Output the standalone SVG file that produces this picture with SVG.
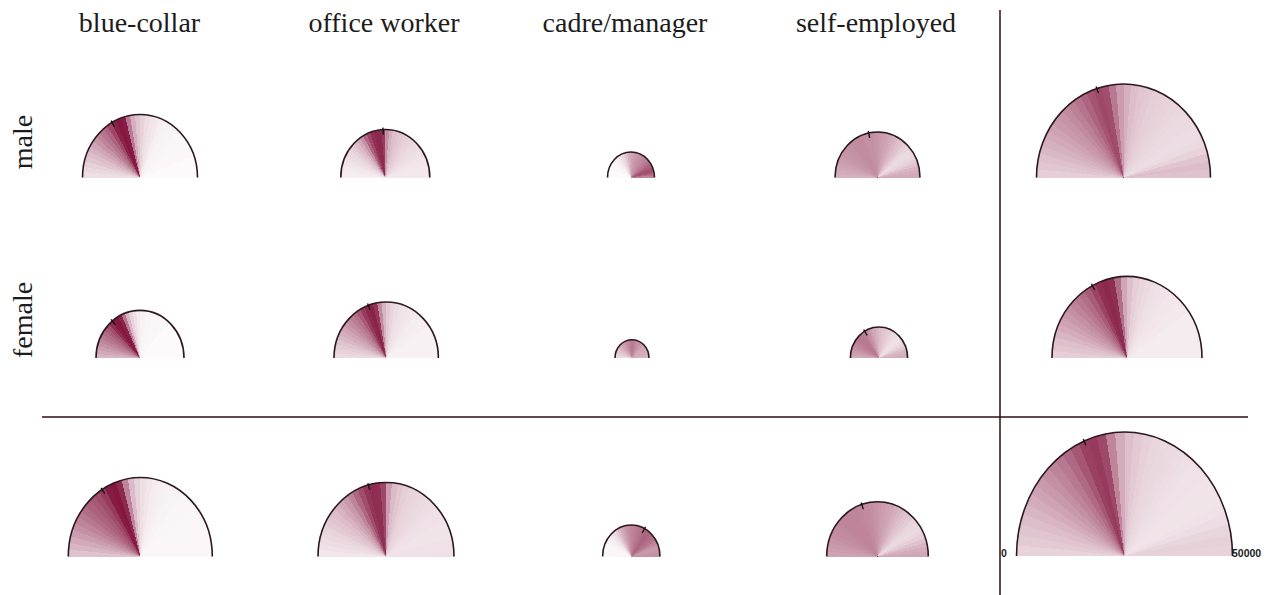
<svg xmlns="http://www.w3.org/2000/svg" xmlns:xlink="http://www.w3.org/1999/xlink" width="1274" height="595" viewBox="0 0 1274 595">
<style>
.fan{fill:#7d0a36;shape-rendering:crispEdges}
.arc{fill:none;stroke:#2b1820;stroke-width:1.6}
.tick{stroke:#1a1014;stroke-width:1.4;fill:none}
.hdr{font-family:"Liberation Serif","Times New Roman",serif;font-size:28px;fill:#1c1c1c;text-anchor:middle}
.ax{font-family:"Liberation Sans",Arial,sans-serif;font-size:10.5px;font-weight:bold;fill:#1c1c1c}
.rule{stroke:#2a0f12;stroke-width:1.5}
</style>
<defs>
<path id="w0" d="M0 0L-100 0L-99.62-8.72Z"/>
<path id="w1" d="M0 0L-99.62-8.72L-98.48-17.36Z"/>
<path id="w2" d="M0 0L-98.48-17.36L-96.59-25.88Z"/>
<path id="w3" d="M0 0L-96.59-25.88L-93.97-34.2Z"/>
<path id="w4" d="M0 0L-93.97-34.2L-90.63-42.26Z"/>
<path id="w5" d="M0 0L-90.63-42.26L-86.6-50Z"/>
<path id="w6" d="M0 0L-86.6-50L-81.92-57.36Z"/>
<path id="w7" d="M0 0L-81.92-57.36L-76.6-64.28Z"/>
<path id="w8" d="M0 0L-76.6-64.28L-70.71-70.71Z"/>
<path id="w9" d="M0 0L-70.71-70.71L-64.28-76.6Z"/>
<path id="w10" d="M0 0L-64.28-76.6L-57.36-81.92Z"/>
<path id="w11" d="M0 0L-57.36-81.92L-50-86.6Z"/>
<path id="w12" d="M0 0L-50-86.6L-42.26-90.63Z"/>
<path id="w13" d="M0 0L-42.26-90.63L-34.2-93.97Z"/>
<path id="w14" d="M0 0L-34.2-93.97L-25.88-96.59Z"/>
<path id="w15" d="M0 0L-25.88-96.59L-17.36-98.48Z"/>
<path id="w16" d="M0 0L-17.36-98.48L-8.72-99.62Z"/>
<path id="w17" d="M0 0L-8.72-99.62L0-100Z"/>
<path id="w18" d="M0 0L0-100L8.72-99.62Z"/>
<path id="w19" d="M0 0L8.72-99.62L17.36-98.48Z"/>
<path id="w20" d="M0 0L17.36-98.48L25.88-96.59Z"/>
<path id="w21" d="M0 0L25.88-96.59L34.2-93.97Z"/>
<path id="w22" d="M0 0L34.2-93.97L42.26-90.63Z"/>
<path id="w23" d="M0 0L42.26-90.63L50-86.6Z"/>
<path id="w24" d="M0 0L50-86.6L57.36-81.92Z"/>
<path id="w25" d="M0 0L57.36-81.92L64.28-76.6Z"/>
<path id="w26" d="M0 0L64.28-76.6L70.71-70.71Z"/>
<path id="w27" d="M0 0L70.71-70.71L76.6-64.28Z"/>
<path id="w28" d="M0 0L76.6-64.28L81.92-57.36Z"/>
<path id="w29" d="M0 0L81.92-57.36L86.6-50Z"/>
<path id="w30" d="M0 0L86.6-50L90.63-42.26Z"/>
<path id="w31" d="M0 0L90.63-42.26L93.97-34.2Z"/>
<path id="w32" d="M0 0L93.97-34.2L96.59-25.88Z"/>
<path id="w33" d="M0 0L96.59-25.88L98.48-17.36Z"/>
<path id="w34" d="M0 0L98.48-17.36L99.62-8.72Z"/>
<path id="w35" d="M0 0L99.62-8.72L100 0Z"/>
</defs>
<rect width="1274" height="595" fill="#ffffff"/>

<g id="headers">
<text class="hdr" x="139.5" y="32">blue-collar</text>
<text class="hdr" x="384" y="32">office worker</text>
<text class="hdr" x="625" y="32">cadre/manager</text>
<text class="hdr" x="876" y="32">self-employed</text>
<text class="hdr" transform="translate(32 142) rotate(-90)">male</text>
<text class="hdr" transform="translate(32 320) rotate(-90)">female</text>
</g>

<g id="connectors">
<line class="rule" x1="1000" y1="10" x2="1000" y2="595"/>
<line class="rule" x1="42" y1="417" x2="1248" y2="417"/>
</g>

<g id="male-blue-collar">
<g class="fan" transform="translate(140 177.5) scale(.575 .63)">
<use href="#w0" fill-opacity=".13"/><use href="#w1" fill-opacity=".16"/><use href="#w2" fill-opacity=".19"/><use href="#w3" fill-opacity=".23"/><use href="#w4" fill-opacity=".27"/><use href="#w5" fill-opacity=".32"/><use href="#w6" fill-opacity=".37"/><use href="#w7" fill-opacity=".43"/><use href="#w8" fill-opacity=".5"/><use href="#w9" fill-opacity=".56"/><use href="#w10" fill-opacity=".63"/><use href="#w11" fill-opacity=".75"/><use href="#w12" fill-opacity=".9"/><use href="#w13" fill-opacity=".95"/><use href="#w14" fill-opacity=".92"/><use href="#w15" fill-opacity=".55"/><use href="#w16" fill-opacity=".33"/><use href="#w17" fill-opacity=".24"/><use href="#w18" fill-opacity=".18"/><use href="#w19" fill-opacity=".14"/><use href="#w20" fill-opacity=".11"/><use href="#w21" fill-opacity=".09"/><use href="#w22" fill-opacity=".07"/><use href="#w23" fill-opacity=".06"/><use href="#w24" fill-opacity=".05"/><use href="#w25" fill-opacity=".05"/><use href="#w26" fill-opacity=".04"/><use href="#w27" fill-opacity=".04"/><use href="#w28" fill-opacity=".03"/><use href="#w29" fill-opacity=".03"/><use href="#w30" fill-opacity=".03"/><use href="#w31" fill-opacity=".03"/><use href="#w32" fill-opacity=".02"/><use href="#w33" fill-opacity=".02"/><use href="#w34" fill-opacity=".02"/><use href="#w35" fill-opacity=".02"/>
</g>
<path class="arc" d="M82.5 177.5A57.5 63 0 0 1 197.5 177.5"/>
<path class="tick" d="M114.5 126.8L111.1 120.7"/>
</g>

<g id="male-office-worker">
<g class="fan" transform="translate(385.3 177.5) scale(.445 .48)">
<use href="#w0" fill-opacity=".07"/><use href="#w1" fill-opacity=".08"/><use href="#w2" fill-opacity=".09"/><use href="#w3" fill-opacity=".1"/><use href="#w4" fill-opacity=".12"/><use href="#w5" fill-opacity=".14"/><use href="#w6" fill-opacity=".16"/><use href="#w7" fill-opacity=".19"/><use href="#w8" fill-opacity=".23"/><use href="#w9" fill-opacity=".28"/><use href="#w10" fill-opacity=".35"/><use href="#w11" fill-opacity=".45"/><use href="#w12" fill-opacity=".62"/><use href="#w13" fill-opacity=".75"/><use href="#w14" fill-opacity=".85"/><use href="#w15" fill-opacity=".88"/><use href="#w16" fill-opacity=".88"/><use href="#w17" fill-opacity=".8"/><use href="#w18" fill-opacity=".45"/><use href="#w19" fill-opacity=".32"/><use href="#w20" fill-opacity=".27"/><use href="#w21" fill-opacity=".24"/><use href="#w22" fill-opacity=".22"/><use href="#w23" fill-opacity=".2"/><use href="#w24" fill-opacity=".18"/><use href="#w25" fill-opacity=".17"/><use href="#w26" fill-opacity=".15"/><use href="#w27" fill-opacity=".14"/><use href="#w28" fill-opacity=".13"/><use href="#w29" fill-opacity=".12"/><use href="#w30" fill-opacity=".11"/><use href="#w31" fill-opacity=".1"/><use href="#w32" fill-opacity=".1"/><use href="#w33" fill-opacity=".09"/><use href="#w34" fill-opacity=".09"/><use href="#w35" fill-opacity=".09"/>
</g>
<path class="arc" d="M340.8 177.5A44.5 48 0 0 1 429.8 177.5"/>
<path class="tick" d="M383.3 134.6L382.9 127.6"/>
</g>

<g id="male-cadre-manager">
<g class="fan" transform="translate(631 177.5) scale(.235 .255)">
<use href="#w0" fill-opacity=".02"/><use href="#w1" fill-opacity=".02"/><use href="#w2" fill-opacity=".02"/><use href="#w3" fill-opacity=".02"/><use href="#w4" fill-opacity=".03"/><use href="#w5" fill-opacity=".03"/><use href="#w6" fill-opacity=".03"/><use href="#w7" fill-opacity=".04"/><use href="#w8" fill-opacity=".05"/><use href="#w9" fill-opacity=".06"/><use href="#w10" fill-opacity=".08"/><use href="#w11" fill-opacity=".1"/><use href="#w12" fill-opacity=".13"/><use href="#w13" fill-opacity=".16"/><use href="#w14" fill-opacity=".2"/><use href="#w15" fill-opacity=".25"/><use href="#w16" fill-opacity=".3"/><use href="#w17" fill-opacity=".34"/><use href="#w18" fill-opacity=".38"/><use href="#w19" fill-opacity=".4"/><use href="#w20" fill-opacity=".42"/><use href="#w21" fill-opacity=".44"/><use href="#w22" fill-opacity=".45"/><use href="#w23" fill-opacity=".46"/><use href="#w24" fill-opacity=".48"/><use href="#w25" fill-opacity=".5"/><use href="#w26" fill-opacity=".52"/><use href="#w27" fill-opacity=".55"/><use href="#w28" fill-opacity=".58"/><use href="#w29" fill-opacity=".62"/><use href="#w30" fill-opacity=".66"/><use href="#w31" fill-opacity=".7"/><use href="#w32" fill-opacity=".72"/><use href="#w33" fill-opacity=".7"/><use href="#w34" fill-opacity=".6"/><use href="#w35" fill-opacity=".5"/>
</g>
<path class="arc" d="M607.5 177.5A23.5 25.5 0 0 1 654.5 177.5"/>
</g>

<g id="male-self-employed">
<g class="fan" transform="translate(877.5 177.5) scale(.425 .455)">
<use href="#w0" fill-opacity=".32"/><use href="#w1" fill-opacity=".34"/><use href="#w2" fill-opacity=".36"/><use href="#w3" fill-opacity=".38"/><use href="#w4" fill-opacity=".4"/><use href="#w5" fill-opacity=".42"/><use href="#w6" fill-opacity=".43"/><use href="#w7" fill-opacity=".44"/><use href="#w8" fill-opacity=".45"/><use href="#w9" fill-opacity=".46"/><use href="#w10" fill-opacity=".47"/><use href="#w11" fill-opacity=".47"/><use href="#w12" fill-opacity=".47"/><use href="#w13" fill-opacity=".47"/><use href="#w14" fill-opacity=".46"/><use href="#w15" fill-opacity=".46"/><use href="#w16" fill-opacity=".45"/><use href="#w17" fill-opacity=".44"/><use href="#w18" fill-opacity=".42"/><use href="#w19" fill-opacity=".4"/><use href="#w20" fill-opacity=".38"/><use href="#w21" fill-opacity=".36"/><use href="#w22" fill-opacity=".33"/><use href="#w23" fill-opacity=".3"/><use href="#w24" fill-opacity=".27"/><use href="#w25" fill-opacity=".24"/><use href="#w26" fill-opacity=".2"/><use href="#w27" fill-opacity=".17"/><use href="#w28" fill-opacity=".15"/><use href="#w29" fill-opacity=".15"/><use href="#w30" fill-opacity=".17"/><use href="#w31" fill-opacity=".2"/><use href="#w32" fill-opacity=".25"/><use href="#w33" fill-opacity=".3"/><use href="#w34" fill-opacity=".33"/><use href="#w35" fill-opacity=".35"/>
</g>
<path class="arc" d="M835 177.5A42.5 45.5 0 0 1 920 177.5"/>
<path class="tick" d="M869.7 137.9L868.3 131"/>
</g>

<g id="male-total">
<g class="fan" transform="translate(1123.5 177.5) scale(.87 .935)">
<use href="#w0" fill-opacity=".2"/><use href="#w1" fill-opacity=".23"/><use href="#w2" fill-opacity=".26"/><use href="#w3" fill-opacity=".29"/><use href="#w4" fill-opacity=".32"/><use href="#w5" fill-opacity=".35"/><use href="#w6" fill-opacity=".38"/><use href="#w7" fill-opacity=".41"/><use href="#w8" fill-opacity=".44"/><use href="#w9" fill-opacity=".48"/><use href="#w10" fill-opacity=".52"/><use href="#w11" fill-opacity=".57"/><use href="#w12" fill-opacity=".63"/><use href="#w13" fill-opacity=".7"/><use href="#w14" fill-opacity=".74"/><use href="#w15" fill-opacity=".72"/><use href="#w16" fill-opacity=".55"/><use href="#w17" fill-opacity=".4"/><use href="#w18" fill-opacity=".32"/><use href="#w19" fill-opacity=".27"/><use href="#w20" fill-opacity=".24"/><use href="#w21" fill-opacity=".22"/><use href="#w22" fill-opacity=".2"/><use href="#w23" fill-opacity=".19"/><use href="#w24" fill-opacity=".18"/><use href="#w25" fill-opacity=".17"/><use href="#w26" fill-opacity=".16"/><use href="#w27" fill-opacity=".15"/><use href="#w28" fill-opacity=".15"/><use href="#w29" fill-opacity=".14"/><use href="#w30" fill-opacity=".14"/><use href="#w31" fill-opacity=".15"/><use href="#w32" fill-opacity=".18"/><use href="#w33" fill-opacity=".24"/><use href="#w34" fill-opacity=".27"/><use href="#w35" fill-opacity=".25"/>
</g>
<path class="arc" d="M1036.5 177.5A87 93.5 0 0 1 1210.5 177.5"/>
<path class="tick" d="M1098.4 93L1096.1 86.4"/>
</g>

<g id="female-blue-collar">
<g class="fan" transform="translate(140 358) scale(.44 .476)">
<use href="#w0" fill-opacity=".3"/><use href="#w1" fill-opacity=".35"/><use href="#w2" fill-opacity=".4"/><use href="#w3" fill-opacity=".45"/><use href="#w4" fill-opacity=".5"/><use href="#w5" fill-opacity=".55"/><use href="#w6" fill-opacity=".6"/><use href="#w7" fill-opacity=".66"/><use href="#w8" fill-opacity=".72"/><use href="#w9" fill-opacity=".85"/><use href="#w10" fill-opacity=".93"/><use href="#w11" fill-opacity=".95"/><use href="#w12" fill-opacity=".9"/><use href="#w13" fill-opacity=".55"/><use href="#w14" fill-opacity=".3"/><use href="#w15" fill-opacity=".18"/><use href="#w16" fill-opacity=".12"/><use href="#w17" fill-opacity=".08"/><use href="#w18" fill-opacity=".06"/><use href="#w19" fill-opacity=".05"/><use href="#w20" fill-opacity=".04"/><use href="#w21" fill-opacity=".04"/><use href="#w22" fill-opacity=".03"/><use href="#w23" fill-opacity=".03"/><use href="#w24" fill-opacity=".03"/><use href="#w25" fill-opacity=".03"/><use href="#w26" fill-opacity=".02"/><use href="#w27" fill-opacity=".02"/><use href="#w28" fill-opacity=".02"/><use href="#w29" fill-opacity=".02"/><use href="#w30" fill-opacity=".02"/><use href="#w31" fill-opacity=".02"/><use href="#w32" fill-opacity=".02"/><use href="#w33" fill-opacity=".02"/><use href="#w34" fill-opacity=".02"/><use href="#w35" fill-opacity=".02"/>
</g>
<path class="arc" d="M96 358A44 47.6 0 0 1 184 358"/>
<path class="tick" d="M115.4 324.9L111 319.4"/>
</g>

<g id="female-office-worker">
<g class="fan" transform="translate(386.2 358) scale(.522 .56)">
<use href="#w0" fill-opacity=".15"/><use href="#w1" fill-opacity=".18"/><use href="#w2" fill-opacity=".21"/><use href="#w3" fill-opacity=".25"/><use href="#w4" fill-opacity=".29"/><use href="#w5" fill-opacity=".33"/><use href="#w6" fill-opacity=".37"/><use href="#w7" fill-opacity=".42"/><use href="#w8" fill-opacity=".47"/><use href="#w9" fill-opacity=".52"/><use href="#w10" fill-opacity=".58"/><use href="#w11" fill-opacity=".68"/><use href="#w12" fill-opacity=".8"/><use href="#w13" fill-opacity=".88"/><use href="#w14" fill-opacity=".9"/><use href="#w15" fill-opacity=".82"/><use href="#w16" fill-opacity=".48"/><use href="#w17" fill-opacity=".3"/><use href="#w18" fill-opacity=".21"/><use href="#w19" fill-opacity=".17"/><use href="#w20" fill-opacity=".14"/><use href="#w21" fill-opacity=".12"/><use href="#w22" fill-opacity=".11"/><use href="#w23" fill-opacity=".1"/><use href="#w24" fill-opacity=".09"/><use href="#w25" fill-opacity=".08"/><use href="#w26" fill-opacity=".08"/><use href="#w27" fill-opacity=".07"/><use href="#w28" fill-opacity=".07"/><use href="#w29" fill-opacity=".06"/><use href="#w30" fill-opacity=".06"/><use href="#w31" fill-opacity=".06"/><use href="#w32" fill-opacity=".06"/><use href="#w33" fill-opacity=".06"/><use href="#w34" fill-opacity=".06"/><use href="#w35" fill-opacity=".06"/>
</g>
<path class="arc" d="M334 358A52.2 56 0 0 1 438.4 358"/>
<path class="tick" d="M370 310.1L367.6 303.5"/>
</g>

<g id="female-cadre-manager">
<g class="fan" transform="translate(632 358) scale(.17 .183)">
<use href="#w0" fill-opacity=".15"/><use href="#w1" fill-opacity=".17"/><use href="#w2" fill-opacity=".19"/><use href="#w3" fill-opacity=".21"/><use href="#w4" fill-opacity=".23"/><use href="#w5" fill-opacity=".25"/><use href="#w6" fill-opacity=".27"/><use href="#w7" fill-opacity=".3"/><use href="#w8" fill-opacity=".32"/><use href="#w9" fill-opacity=".35"/><use href="#w10" fill-opacity=".38"/><use href="#w11" fill-opacity=".4"/><use href="#w12" fill-opacity=".42"/><use href="#w13" fill-opacity=".45"/><use href="#w14" fill-opacity=".48"/><use href="#w15" fill-opacity=".5"/><use href="#w16" fill-opacity=".52"/><use href="#w17" fill-opacity=".55"/><use href="#w18" fill-opacity=".55"/><use href="#w19" fill-opacity=".52"/><use href="#w20" fill-opacity=".5"/><use href="#w21" fill-opacity=".48"/><use href="#w22" fill-opacity=".46"/><use href="#w23" fill-opacity=".44"/><use href="#w24" fill-opacity=".42"/><use href="#w25" fill-opacity=".4"/><use href="#w26" fill-opacity=".38"/><use href="#w27" fill-opacity=".36"/><use href="#w28" fill-opacity=".35"/><use href="#w29" fill-opacity=".34"/><use href="#w30" fill-opacity=".34"/><use href="#w31" fill-opacity=".34"/><use href="#w32" fill-opacity=".33"/><use href="#w33" fill-opacity=".33"/><use href="#w34" fill-opacity=".32"/><use href="#w35" fill-opacity=".3"/>
</g>
<path class="arc" d="M615 358A17 18.3 0 0 1 649 358"/>
</g>

<g id="female-self-employed">
<g class="fan" transform="translate(879 358) scale(.286 .31)">
<use href="#w0" fill-opacity=".35"/><use href="#w1" fill-opacity=".38"/><use href="#w2" fill-opacity=".41"/><use href="#w3" fill-opacity=".44"/><use href="#w4" fill-opacity=".47"/><use href="#w5" fill-opacity=".5"/><use href="#w6" fill-opacity=".52"/><use href="#w7" fill-opacity=".54"/><use href="#w8" fill-opacity=".55"/><use href="#w9" fill-opacity=".55"/><use href="#w10" fill-opacity=".54"/><use href="#w11" fill-opacity=".52"/><use href="#w12" fill-opacity=".48"/><use href="#w13" fill-opacity=".44"/><use href="#w14" fill-opacity=".4"/><use href="#w15" fill-opacity=".36"/><use href="#w16" fill-opacity=".33"/><use href="#w17" fill-opacity=".3"/><use href="#w18" fill-opacity=".27"/><use href="#w19" fill-opacity=".25"/><use href="#w20" fill-opacity=".23"/><use href="#w21" fill-opacity=".21"/><use href="#w22" fill-opacity=".2"/><use href="#w23" fill-opacity=".18"/><use href="#w24" fill-opacity=".16"/><use href="#w25" fill-opacity=".14"/><use href="#w26" fill-opacity=".13"/><use href="#w27" fill-opacity=".12"/><use href="#w28" fill-opacity=".13"/><use href="#w29" fill-opacity=".15"/><use href="#w30" fill-opacity=".18"/><use href="#w31" fill-opacity=".22"/><use href="#w32" fill-opacity=".26"/><use href="#w33" fill-opacity=".3"/><use href="#w34" fill-opacity=".32"/><use href="#w35" fill-opacity=".33"/>
</g>
<path class="arc" d="M850.4 358A28.6 31 0 0 1 907.6 358"/>
<path class="tick" d="M867.2 335.5L863.7 329.5"/>
</g>

<g id="female-total">
<g class="fan" transform="translate(1127 358) scale(.75 .816)">
<use href="#w0" fill-opacity=".2"/><use href="#w1" fill-opacity=".23"/><use href="#w2" fill-opacity=".26"/><use href="#w3" fill-opacity=".3"/><use href="#w4" fill-opacity=".34"/><use href="#w5" fill-opacity=".38"/><use href="#w6" fill-opacity=".42"/><use href="#w7" fill-opacity=".46"/><use href="#w8" fill-opacity=".5"/><use href="#w9" fill-opacity=".55"/><use href="#w10" fill-opacity=".6"/><use href="#w11" fill-opacity=".67"/><use href="#w12" fill-opacity=".77"/><use href="#w13" fill-opacity=".85"/><use href="#w14" fill-opacity=".88"/><use href="#w15" fill-opacity=".85"/><use href="#w16" fill-opacity=".6"/><use href="#w17" fill-opacity=".36"/><use href="#w18" fill-opacity=".26"/><use href="#w19" fill-opacity=".2"/><use href="#w20" fill-opacity=".17"/><use href="#w21" fill-opacity=".15"/><use href="#w22" fill-opacity=".13"/><use href="#w23" fill-opacity=".12"/><use href="#w24" fill-opacity=".11"/><use href="#w25" fill-opacity=".1"/><use href="#w26" fill-opacity=".1"/><use href="#w27" fill-opacity=".09"/><use href="#w28" fill-opacity=".09"/><use href="#w29" fill-opacity=".08"/><use href="#w30" fill-opacity=".08"/><use href="#w31" fill-opacity=".08"/><use href="#w32" fill-opacity=".08"/><use href="#w33" fill-opacity=".08"/><use href="#w34" fill-opacity=".08"/><use href="#w35" fill-opacity=".08"/>
</g>
<path class="arc" d="M1052 358A75 81.6 0 0 1 1202 358"/>
<path class="tick" d="M1094.7 290L1091.5 283.8"/>
</g>

<g id="total-blue-collar">
<g class="fan" transform="translate(140.3 556.5) scale(.72 .79)">
<use href="#w0" fill-opacity=".25"/><use href="#w1" fill-opacity=".3"/><use href="#w2" fill-opacity=".35"/><use href="#w3" fill-opacity=".4"/><use href="#w4" fill-opacity=".45"/><use href="#w5" fill-opacity=".5"/><use href="#w6" fill-opacity=".55"/><use href="#w7" fill-opacity=".6"/><use href="#w8" fill-opacity=".64"/><use href="#w9" fill-opacity=".68"/><use href="#w10" fill-opacity=".73"/><use href="#w11" fill-opacity=".8"/><use href="#w12" fill-opacity=".92"/><use href="#w13" fill-opacity=".95"/><use href="#w14" fill-opacity=".88"/><use href="#w15" fill-opacity=".5"/><use href="#w16" fill-opacity=".28"/><use href="#w17" fill-opacity=".18"/><use href="#w18" fill-opacity=".13"/><use href="#w19" fill-opacity=".1"/><use href="#w20" fill-opacity=".08"/><use href="#w21" fill-opacity=".07"/><use href="#w22" fill-opacity=".06"/><use href="#w23" fill-opacity=".05"/><use href="#w24" fill-opacity=".05"/><use href="#w25" fill-opacity=".04"/><use href="#w26" fill-opacity=".04"/><use href="#w27" fill-opacity=".04"/><use href="#w28" fill-opacity=".03"/><use href="#w29" fill-opacity=".03"/><use href="#w30" fill-opacity=".03"/><use href="#w31" fill-opacity=".03"/><use href="#w32" fill-opacity=".03"/><use href="#w33" fill-opacity=".03"/><use href="#w34" fill-opacity=".03"/><use href="#w35" fill-opacity=".03"/>
</g>
<path class="arc" d="M68.3 556.5A72 79 0 0 1 212.3 556.5"/>
<path class="tick" d="M104.8 493.7L101 487.8"/>
</g>

<g id="total-office-worker">
<g class="fan" transform="translate(386 556.5) scale(.68 .74)">
<use href="#w0" fill-opacity=".1"/><use href="#w1" fill-opacity=".12"/><use href="#w2" fill-opacity=".14"/><use href="#w3" fill-opacity=".16"/><use href="#w4" fill-opacity=".18"/><use href="#w5" fill-opacity=".21"/><use href="#w6" fill-opacity=".24"/><use href="#w7" fill-opacity=".27"/><use href="#w8" fill-opacity=".31"/><use href="#w9" fill-opacity=".36"/><use href="#w10" fill-opacity=".42"/><use href="#w11" fill-opacity=".5"/><use href="#w12" fill-opacity=".62"/><use href="#w13" fill-opacity=".73"/><use href="#w14" fill-opacity=".82"/><use href="#w15" fill-opacity=".86"/><use href="#w16" fill-opacity=".85"/><use href="#w17" fill-opacity=".75"/><use href="#w18" fill-opacity=".4"/><use href="#w19" fill-opacity=".28"/><use href="#w20" fill-opacity=".23"/><use href="#w21" fill-opacity=".2"/><use href="#w22" fill-opacity=".18"/><use href="#w23" fill-opacity=".17"/><use href="#w24" fill-opacity=".16"/><use href="#w25" fill-opacity=".15"/><use href="#w26" fill-opacity=".14"/><use href="#w27" fill-opacity=".13"/><use href="#w28" fill-opacity=".12"/><use href="#w29" fill-opacity=".12"/><use href="#w30" fill-opacity=".11"/><use href="#w31" fill-opacity=".11"/><use href="#w32" fill-opacity=".11"/><use href="#w33" fill-opacity=".12"/><use href="#w34" fill-opacity=".12"/><use href="#w35" fill-opacity=".12"/>
</g>
<path class="arc" d="M318 556.5A68 74 0 0 1 454 556.5"/>
<path class="tick" d="M369.7 489.8L367.9 483.1"/>
</g>

<g id="total-cadre-manager">
<g class="fan" transform="translate(631.3 556.5) scale(.287 .315)">
<use href="#w0" fill-opacity=".03"/><use href="#w1" fill-opacity=".03"/><use href="#w2" fill-opacity=".03"/><use href="#w3" fill-opacity=".04"/><use href="#w4" fill-opacity=".04"/><use href="#w5" fill-opacity=".05"/><use href="#w6" fill-opacity=".06"/><use href="#w7" fill-opacity=".07"/><use href="#w8" fill-opacity=".09"/><use href="#w9" fill-opacity=".12"/><use href="#w10" fill-opacity=".16"/><use href="#w11" fill-opacity=".22"/><use href="#w12" fill-opacity=".28"/><use href="#w13" fill-opacity=".33"/><use href="#w14" fill-opacity=".38"/><use href="#w15" fill-opacity=".42"/><use href="#w16" fill-opacity=".45"/><use href="#w17" fill-opacity=".48"/><use href="#w18" fill-opacity=".5"/><use href="#w19" fill-opacity=".52"/><use href="#w20" fill-opacity=".54"/><use href="#w21" fill-opacity=".56"/><use href="#w22" fill-opacity=".58"/><use href="#w23" fill-opacity=".6"/><use href="#w24" fill-opacity=".62"/><use href="#w25" fill-opacity=".63"/><use href="#w26" fill-opacity=".62"/><use href="#w27" fill-opacity=".6"/><use href="#w28" fill-opacity=".58"/><use href="#w29" fill-opacity=".55"/><use href="#w30" fill-opacity=".5"/><use href="#w31" fill-opacity=".45"/><use href="#w32" fill-opacity=".42"/><use href="#w33" fill-opacity=".42"/><use href="#w34" fill-opacity=".44"/><use href="#w35" fill-opacity=".45"/>
</g>
<path class="arc" d="M602.6 556.5A28.7 31.5 0 0 1 660 556.5"/>
<path class="tick" d="M642.3 533L645.5 526.8"/>
</g>

<g id="total-self-employed">
<g class="fan" transform="translate(877.5 556.5) scale(.508 .548)">
<use href="#w0" fill-opacity=".38"/><use href="#w1" fill-opacity=".4"/><use href="#w2" fill-opacity=".42"/><use href="#w3" fill-opacity=".44"/><use href="#w4" fill-opacity=".46"/><use href="#w5" fill-opacity=".47"/><use href="#w6" fill-opacity=".48"/><use href="#w7" fill-opacity=".49"/><use href="#w8" fill-opacity=".5"/><use href="#w9" fill-opacity=".5"/><use href="#w10" fill-opacity=".5"/><use href="#w11" fill-opacity=".5"/><use href="#w12" fill-opacity=".5"/><use href="#w13" fill-opacity=".49"/><use href="#w14" fill-opacity=".48"/><use href="#w15" fill-opacity=".47"/><use href="#w16" fill-opacity=".46"/><use href="#w17" fill-opacity=".44"/><use href="#w18" fill-opacity=".42"/><use href="#w19" fill-opacity=".4"/><use href="#w20" fill-opacity=".38"/><use href="#w21" fill-opacity=".36"/><use href="#w22" fill-opacity=".33"/><use href="#w23" fill-opacity=".3"/><use href="#w24" fill-opacity=".27"/><use href="#w25" fill-opacity=".24"/><use href="#w26" fill-opacity=".21"/><use href="#w27" fill-opacity=".18"/><use href="#w28" fill-opacity=".16"/><use href="#w29" fill-opacity=".15"/><use href="#w30" fill-opacity=".17"/><use href="#w31" fill-opacity=".2"/><use href="#w32" fill-opacity=".25"/><use href="#w33" fill-opacity=".3"/><use href="#w34" fill-opacity=".34"/><use href="#w35" fill-opacity=".36"/>
</g>
<path class="arc" d="M826.7 556.5A50.8 54.8 0 0 1 928.3 556.5"/>
<path class="tick" d="M863.3 509.2L861.2 502.5"/>
</g>

<g id="total-total">
<g class="fan" transform="translate(1124.5 556) scale(1.08 1.24)">
<use href="#w0" fill-opacity=".18"/><use href="#w1" fill-opacity=".21"/><use href="#w2" fill-opacity=".24"/><use href="#w3" fill-opacity=".27"/><use href="#w4" fill-opacity=".3"/><use href="#w5" fill-opacity=".34"/><use href="#w6" fill-opacity=".38"/><use href="#w7" fill-opacity=".42"/><use href="#w8" fill-opacity=".46"/><use href="#w9" fill-opacity=".5"/><use href="#w10" fill-opacity=".55"/><use href="#w11" fill-opacity=".61"/><use href="#w12" fill-opacity=".69"/><use href="#w13" fill-opacity=".78"/><use href="#w14" fill-opacity=".8"/><use href="#w15" fill-opacity=".74"/><use href="#w16" fill-opacity=".5"/><use href="#w17" fill-opacity=".34"/><use href="#w18" fill-opacity=".26"/><use href="#w19" fill-opacity=".22"/><use href="#w20" fill-opacity=".19"/><use href="#w21" fill-opacity=".17"/><use href="#w22" fill-opacity=".16"/><use href="#w23" fill-opacity=".15"/><use href="#w24" fill-opacity=".14"/><use href="#w25" fill-opacity=".13"/><use href="#w26" fill-opacity=".12"/><use href="#w27" fill-opacity=".12"/><use href="#w28" fill-opacity=".11"/><use href="#w29" fill-opacity=".11"/><use href="#w30" fill-opacity=".11"/><use href="#w31" fill-opacity=".12"/><use href="#w32" fill-opacity=".14"/><use href="#w33" fill-opacity=".17"/><use href="#w34" fill-opacity=".19"/><use href="#w35" fill-opacity=".18"/>
</g>
<path class="arc" d="M1016.5 556A108 124 0 0 1 1232.5 556"/>
<path class="tick" d="M1085.9 445.6L1083.3 439.1"/>
<text class="ax" x="1001" y="557">0</text>
<text class="ax" x="1232" y="557">50000</text>
</g>
</svg>
